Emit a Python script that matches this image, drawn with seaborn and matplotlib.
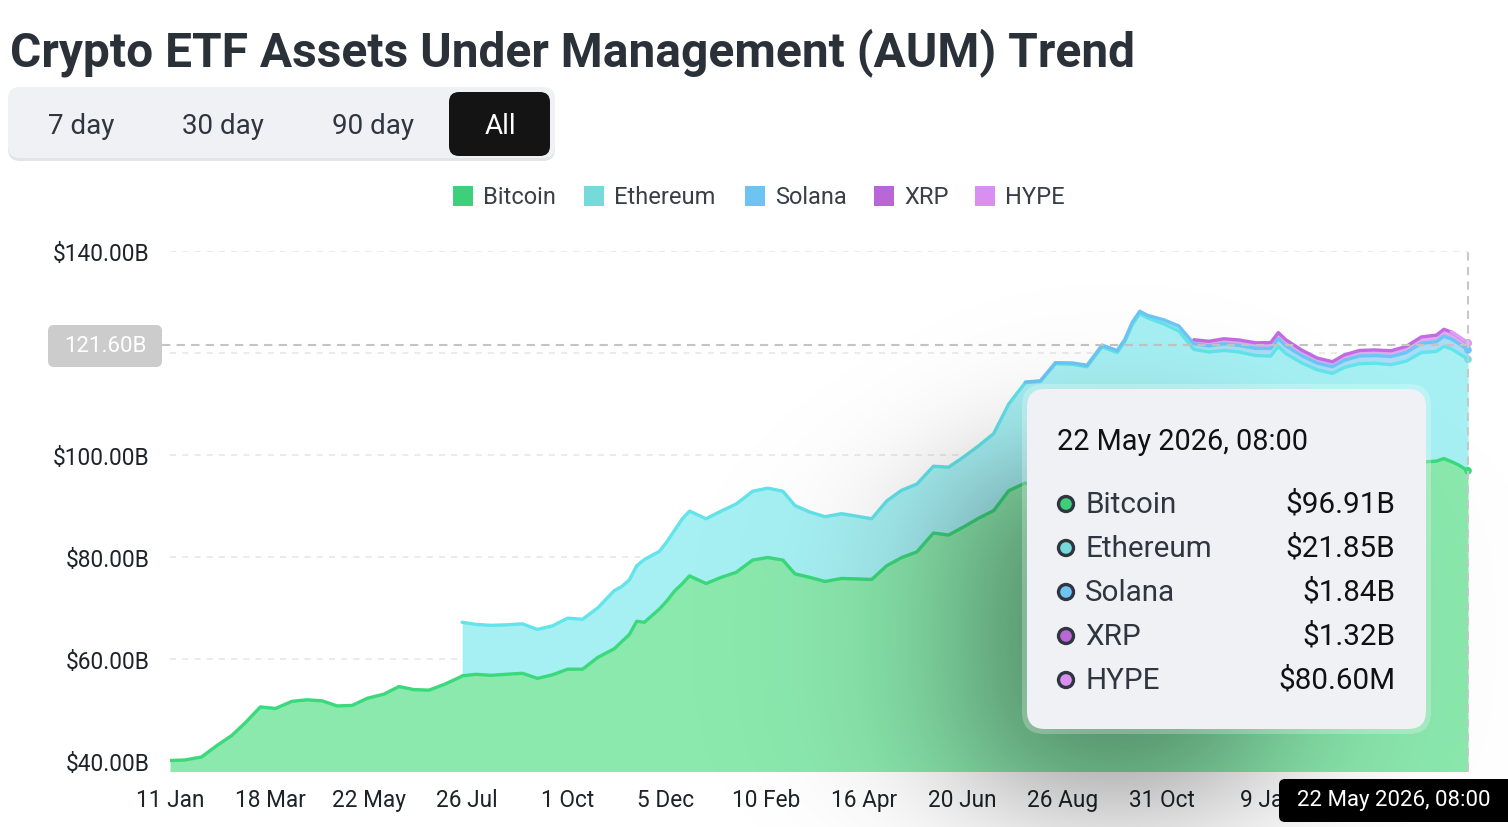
import numpy as np
import pandas as pd
import seaborn as sns
import matplotlib.pyplot as plt
from matplotlib.patches import FancyBboxPatch, Circle, Rectangle

# --- data (values in $B) ---
dates = [
    "2024-01-11", "2024-01-21", "2024-02-01", "2024-02-11", "2024-02-21", "2024-03-01", "2024-03-11", "2024-03-21",
    "2024-04-01", "2024-04-11", "2024-04-21", "2024-05-01", "2024-05-11", "2024-05-21", "2024-06-01", "2024-06-11",
    "2024-06-21", "2024-07-01", "2024-07-11", "2024-07-22", "2024-07-23", "2024-08-01", "2024-08-11", "2024-08-21",
    "2024-09-01", "2024-09-11", "2024-09-21", "2024-10-01", "2024-10-11", "2024-10-21", "2024-11-01", "2024-11-06",
    "2024-11-11", "2024-11-16", "2024-11-21", "2024-12-01", "2024-12-06", "2024-12-11", "2024-12-16", "2024-12-21",
    "2025-01-01", "2025-01-11", "2025-01-21", "2025-02-01", "2025-02-11", "2025-02-21", "2025-03-01", "2025-03-11",
    "2025-03-21", "2025-04-01", "2025-04-11", "2025-04-21", "2025-05-01", "2025-05-11", "2025-05-21", "2025-06-01",
    "2025-06-11", "2025-06-21", "2025-07-01", "2025-07-11", "2025-07-21", "2025-08-01", "2025-08-11", "2025-08-21",
    "2025-09-01", "2025-09-11", "2025-09-21", "2025-10-01", "2025-10-06", "2025-10-11", "2025-10-16", "2025-10-21",
    "2025-11-01", "2025-11-11", "2025-11-21", "2025-12-01", "2025-12-11", "2025-12-21", "2026-01-01", "2026-01-11",
    "2026-01-16", "2026-01-21", "2026-02-01", "2026-02-11", "2026-02-21", "2026-03-01", "2026-03-11", "2026-03-21",
    "2026-04-01", "2026-04-11", "2026-04-21", "2026-05-01", "2026-05-06", "2026-05-11", "2026-05-16", "2026-05-22",
]

bitcoin = [
    40.1, 40.2, 40.8, 43.0, 45.0, 47.5, 50.6, 50.3,
    51.7, 52.0, 51.8, 50.8, 50.9, 52.3, 53.1, 54.6,
    54.0, 53.9, 55.0, 56.5, 56.7, 57.0, 56.8, 57.0,
    57.2, 56.2, 56.9, 58.0, 58.0, 60.3, 62.0, 63.4,
    64.8, 67.4, 67.2, 69.8, 71.4, 73.3, 74.7, 76.3,
    74.8, 76.0, 77.0, 79.4, 79.9, 79.4, 76.7, 76.0,
    75.2, 75.8, 75.7, 75.6, 78.3, 79.9, 81.0, 84.7,
    84.3, 85.9, 87.6, 89.1, 93.0, 94.5, 93.9, 95.9,
    94.8, 93.8, 96.2, 95.6, 96.7, 98.5, 100.2, 99.9,
    100.2, 100.3, 98.7, 98.7, 99.0, 99.2, 99.0, 98.9,
    99.8, 98.9, 98.0, 97.2, 97.0, 97.7, 97.9, 98.0,
    97.2, 97.6, 98.6, 98.8, 99.3, 98.7, 98.0, 96.91,
]

ethereum = [np.nan] * 20 + [
    10.5, 9.8, 9.8, 9.7,
    9.7, 9.6, 9.6, 10.0, 9.8, 9.7, 11.4, 10.8,
    10.7, 10.9, 12.3, 11.3, 11.6, 11.9, 12.7, 12.7,
    12.7, 13.0, 13.4, 13.5, 13.6, 13.5, 13.4, 12.8,
    12.7, 12.7, 12.3, 11.9, 12.7, 13.2, 13.3, 13.1,
    13.3, 13.7, 14.2, 15.1, 17.0, 19.7, 20.5, 22.0,
    23.0, 23.5, 25.0, 24.5, 25.5, 27.0, 27.5, 27.0,
    25.5, 24.0, 22.0, 21.5, 21.5, 21.0, 20.5, 20.5,
    21.5, 21.0, 20.0, 19.5, 19.0, 19.5, 20.0, 20.0,
    20.5, 20.8, 21.5, 21.5, 22.0, 22.1, 21.9, 21.85,
]

solana = [np.nan] * 61 + [
    0.10, 0.15, 0.2,
    0.25, 0.3, 0.35, 0.4, 0.4, 0.5, 0.5, 0.5,
    0.8, 1.0, 1.1, 1.2, 1.3, 1.3, 1.4, 1.5,
    1.5, 1.5, 1.4, 1.3, 1.3, 1.4, 1.5, 1.5,
    1.6, 1.7, 1.8, 1.9, 2.0, 1.95, 1.9, 1.84,
]

xrp = [np.nan] * 74 + [
    0.8, 0.9, 1.0, 1.05, 1.1, 1.15,
    1.2, 1.2, 1.1, 1.0, 1.0, 1.05, 1.1, 1.1,
    1.15, 1.2, 1.25, 1.3, 1.35, 1.35, 1.33, 1.32,
]

hype = [np.nan] * 93 + [0.06, 0.07, 0.0806]

series_names = ["Bitcoin", "Ethereum", "Solana", "XRP", "HYPE"]
line_colors = ["#3bd97c", "#62e4ea", "#6cc6f5", "#c36be3", "#e39cf5"]
fill_colors = ["#8be9ae", "#a6f0f3", "#a9dcf7", "#dcaaee", "#f0cbf9"]
legend_colors = ["#3ecf7b", "#76d9da", "#6ec3f2", "#b966d6", "#d98ff0"]

tick_dates = ["2024-01-11", "2024-03-18", "2024-05-22", "2024-07-26", "2024-10-01", "2024-12-05",
              "2025-02-10", "2025-04-16", "2025-06-20", "2025-08-26", "2025-10-31", "2026-01-09"]
tick_labels = ["11 Jan", "18 Mar", "22 May", "26 Jul", "1 Oct", "5 Dec",
               "10 Feb", "16 Apr", "20 Jun", "26 Aug", "31 Oct", "9 Jan"]
y_ticks = [40, 60, 80, 100, 120, 140]

tooltip_values = ["$96.91B", "$21.85B", "$1.84B", "$1.32B", "$80.60M"]
hover_label = "22 May 2026, 08:00"
crosshair_value = 121.60

df = pd.DataFrame({"date": pd.to_datetime(dates), "Bitcoin": bitcoin, "Ethereum": ethereum,
                   "Solana": solana, "XRP": xrp, "HYPE": hype})

sns.set_theme(style="white")
plt.rcParams['font.family'] = ['Roboto', 'DejaVu Sans']

W, H = 1508, 828
fig = plt.figure(figsize=(W / 100, H / 100), dpi=100)
fig.patch.set_facecolor("white")

# main plot area in pixel terms: x 170..1468, y 252..772
ax = fig.add_axes([170 / W, 1 - 772 / H, 1298 / W, 520 / H])
ax.set_facecolor("white")

# stacked areas
base = pd.Series(0.0, index=df.index)
tops = []
for name, fc in zip(series_names, fill_colors):
    vals = df[name]
    upper = base + vals.fillna(0)
    mask = vals.notna()
    ax.fill_between(df["date"][mask], base[mask], upper[mask], color=fc, lw=0, zorder=1)
    tops.append((mask, upper))
    base = upper

for (mask, upper), lc in zip(tops, line_colors):
    sns.lineplot(x=df["date"][mask], y=upper[mask], color=lc, lw=2.4, ax=ax, zorder=3)

# end-point markers
end_tops = [upper.iloc[-1] for mask, upper in tops]
sns.scatterplot(x=[df["date"].iloc[-1]] * 5, y=end_tops, hue=series_names, palette=line_colors,
                s=30, edgecolor="none", legend=False, ax=ax, zorder=4, clip_on=False)

ax.set_xlim(df["date"].iloc[0], df["date"].iloc[-1])
ax.set_ylim(38.04, 140)
ax.set_xlabel("")
ax.set_ylabel("")
ax.set_yticks(y_ticks)
# the 120 label sits under the crosshair value badge
ax.set_yticklabels(["" if v == 120 else f"${v:.2f}B" for v in y_ticks])
ax.set_xticks(pd.to_datetime(tick_dates))
ax.set_xticklabels(tick_labels)
ax.tick_params(axis="both", length=0, labelsize=16.3, colors="#1e2329")
ax.tick_params(axis="y", pad=15)
ax.tick_params(axis="x", pad=12)
for s in ax.spines.values():
    s.set_visible(False)
ax.yaxis.grid(True, ls=(0, (4, 4)), color="#e6e6e6", lw=1.1, zorder=0)
ax.xaxis.grid(False)
ax.set_axisbelow(True)

# crosshair
ax.axhline(crosshair_value, xmin=-0.006, xmax=1, ls=(0, (4, 3)), color="#c4c4c4", lw=1.5,
           zorder=5, clip_on=False)
ax.axvline(df["date"].iloc[-1], ymin=0, ymax=1.005, ls=(0, (4, 3)), color="#c8c8c8", lw=1.5,
           zorder=5, clip_on=False)

# overlay in pixel coordinates for page decorations
ov = fig.add_axes([0, 0, 1, 1], zorder=5)
ov.set_xlim(0, W)
ov.set_ylim(H, 0)
ov.axis("off")
ov.patch.set_alpha(0)

# soft shadow of the tooltip card (falls to the lower left)
xs = np.arange(W) + 0.5
ys = np.arange(H) + 0.5
shx = 0.5 * (np.tanh((xs - 980) / 120) - np.tanh((xs - 1250) / 120))
shy = 0.5 * (np.tanh((ys - 470) / 80) - np.tanh((ys - 800) / 80))
shadow = np.zeros((H, W, 4))
shadow[..., 3] = 0.5 * np.outer(shy, shx)
ov.imshow(shadow, extent=(0, W, H, 0), aspect="auto", zorder=1, interpolation="bilinear")

# title
ov.text(10, 53, "Crypto ETF Assets Under Management (AUM) Trend", fontsize=34.5, fontweight="bold",
        color="#2b3139", ha="left", va="center", zorder=3)

# range buttons
ov.add_patch(FancyBboxPatch((8, 91), 547, 71, boxstyle="round,pad=0,rounding_size=12",
                            fc="#e3e4e8", ec="none", zorder=2))
ov.add_patch(FancyBboxPatch((8, 88), 547, 71, boxstyle="round,pad=0,rounding_size=12",
                            fc="#f0f1f5", ec="none", zorder=2))
ov.add_patch(FancyBboxPatch((449, 93), 101, 64, boxstyle="round,pad=0,rounding_size=10",
                            fc="#141414", ec="none", zorder=3))
for label, cx, col in [("7 day", 81, "#2f3640"), ("30 day", 223, "#2f3640"),
                       ("90 day", 373, "#2f3640"), ("All", 500, "white")]:
    ov.text(cx, 127, label, fontsize=20, color=col, ha="center", va="center", zorder=4)

# legend
for name, col, lx in zip(series_names, legend_colors, [453, 584, 745, 874, 975]):
    ov.add_patch(Rectangle((lx, 187), 20, 20, fc=col, ec="none", zorder=3))
    ov.text(lx + 30, 198, name, fontsize=17, color="#393f47", ha="left", va="center", zorder=3)

# crosshair value label
ov.add_patch(FancyBboxPatch((48, 326), 114, 42, boxstyle="round,pad=0,rounding_size=6",
                            fc="#cccccc", ec="none", zorder=3))
ov.text(105, 347, f"{crosshair_value:.2f}B", fontsize=16, color="white", ha="center",
        va="center", zorder=4)

# tooltip card
ov.add_patch(FancyBboxPatch((1022, 385), 409, 350, boxstyle="round,pad=0,rounding_size=22",
                            fc="white", ec="none", alpha=0.25, zorder=3))
ov.add_patch(FancyBboxPatch((1027, 390), 399, 340, boxstyle="round,pad=0,rounding_size=18",
                            fc="#f0f1f5", ec="none", zorder=4))
ov.text(1057, 442, hover_label, fontsize=20.8, color="#111111", ha="left", va="center", zorder=5)
for i, (name, col, val) in enumerate(zip(series_names, legend_colors, tooltip_values)):
    ry = 505 + 44 * i
    ov.add_patch(Circle((1066, ry), 7.5, fc=col, ec="#2f3640", lw=2.4, zorder=5))
    ov.text(1085, ry, name, fontsize=21.3, color="#2f3640", ha="left", va="center", zorder=5)
    ov.text(1395, ry, val, fontsize=21.3, color="#111111", ha="right", va="center", zorder=5)

# hovered date on the x axis
ov.add_patch(FancyBboxPatch((1279, 780), 240, 43, boxstyle="round,pad=0,rounding_size=6",
                            fc="black", ec="none", zorder=6))
ov.text(1394, 801, hover_label, fontsize=16, color="white", ha="center", va="center", zorder=7)

fig.savefig("out.png", dpi=100, facecolor="white")
